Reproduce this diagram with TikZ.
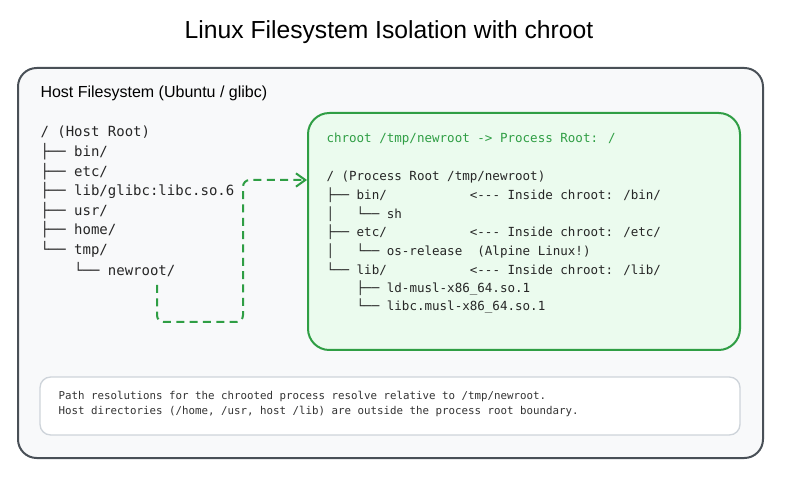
\documentclass[tikz,border=0pt]{standalone}
\usepackage{fontspec}
\setmainfont{Liberation Sans}
\newfontfamily\treefont{DejaVu Sans Mono}
\usetikzlibrary{arrows.meta}
\definecolor{hostline}{RGB}{73,80,87}
\definecolor{hostfill}{RGB}{248,249,250}
\definecolor{chrline}{RGB}{47,158,68}
\definecolor{chrfill}{RGB}{235,251,238}
\definecolor{noteline}{RGB}{206,212,218}
\tikzset{every picture/.style={line width=0.75pt}}
\tikzset{
  lefttree/.style={anchor=west, inner sep=0pt, font=\treefont\fontsize{10.5}{12}\selectfont, text=black!85},
  righttree/.style={anchor=west, inner sep=0pt, font=\treefont\fontsize{9.4}{11}\selectfont, text=black!85},
  notetext/.style={anchor=west, inner sep=0pt, font=\treefont\fontsize{8.1}{9}\selectfont, text=black!80},
  linkline/.style={draw=chrline, line width=1.5pt, dash pattern={on 6pt off 4pt}, rounded corners=5pt}
}
\begin{document}
\begin{tikzpicture}[x=0.75pt,y=0.75pt,yscale=-1,xscale=1]
\useasboundingbox (0,0) rectangle (800,495);

% Title
\node (title) at (389,32) {\fontsize{18.5}{22}\selectfont Linux Filesystem Isolation with chroot};

% Host box
\draw [hostline, fill=hostfill, line width=1.5pt, rounded corners=14pt] (18,68) rectangle (763,458);
\node [anchor=west, inner sep=0pt] (hostlabel) at (40,93) {\fontsize{12}{14}\selectfont Host Filesystem (Ubuntu / glibc)};

% Host tree
\foreach \txt [count=\i] in {/ (Host Root),├── bin/,├── etc/,├── lib/glibc:libc.so.6,├── usr/,├── home/,└── tmp/,{\ \ \ \ └── newroot/}}
  \node [lefttree] (host\i) at (40,{132+(\i-1)*19.6}) {\txt};

% chroot box
\draw [chrline, fill=chrfill, line width=1.5pt, rounded corners=16pt] (308,113) rectangle (740,350);
\coordinate (chrin) at (307,180);
\node [righttree, text=chrline] (chrtitle) at (326,139) {chroot /tmp/newroot -> Process Root: /};

% chroot tree
\foreach \txt [count=\i] in {/ (Process Root /tmp/newroot),├── bin/{\ \ \ \ \ \ \ \ \ \ \ }<--- Inside chroot: /bin/,│{\ \ \ }└── sh,├── etc/{\ \ \ \ \ \ \ \ \ \ \ }<--- Inside chroot: /etc/,│{\ \ \ }└── os-release{\ \ }(Alpine Linux!),└── lib/{\ \ \ \ \ \ \ \ \ \ \ }<--- Inside chroot: /lib/,{\ \ \ \ }├── ld-musl-x86\_64.so.1,{\ \ \ \ }└── libc.musl-x86\_64.so.1}
  \node [righttree] (proc\i) at (326,{177+(\i-1)*18.5}) {\txt};

% link from newroot to chroot box
\coordinate (linkstart) at (157,285);
\draw [linkline, -{Straight Barb[length=7pt,width=10pt]}] (linkstart) -- (157,322) -- (243,322) -- (243,180) -- (chrin);

% Note box
\draw [noteline, fill=white, line width=1pt, rounded corners=8pt] (40,377) rectangle (740,435);
\node [notetext] (note1) at (58,396) {Path resolutions for the chrooted process resolve relative to /tmp/newroot.};
\node [notetext] (note2) at (58,411) {Host directories (/home, /usr, host /lib) are outside the process root boundary.};
\end{tikzpicture}
\end{document}
